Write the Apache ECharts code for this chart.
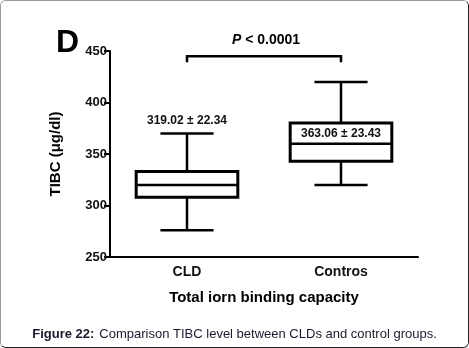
<!DOCTYPE html>
<html>
<head>
<meta charset="utf-8">
<script src="https://cdn.jsdelivr.net/npm/echarts@6/dist/echarts.min.js"></script>
<style>
  html, body { margin: 0; padding: 0; background: #fff; }
  #frame {
    position: absolute; left: 0; top: 0; width: 467px; height: 346px;
    border: 1px solid #999; border-right-color: #222; border-bottom-color: #222;
    border-radius: 6px; overflow: hidden;
  }
  #chart { width: 469px; height: 348px; position: absolute; left: -1px; top: -1px; }
</style>
</head>
<body>
<div id="frame"><div id="chart"></div></div>
<script>
// groups and box-plot statistics
const categories = ['CLD', 'Contros'];
const minVals = [276, 320];
const q1Vals = [308, 343];
const medianVals = [320, 360];
const q3Vals = [333, 380];
const maxVals = [370, 420];

// mean ± SD labels and the level they sit at
const meanSdLabels = ['319.02 ± 22.34', '363.06 ± 23.43'];
const meanSdLevels = [382, 370];

// significance bracket
const bracketLevel = 445;
const bracketEndLevel = 439;
const pTextLevel = 461;

const yMin = 250, yMax = 450, yStep = 50;

const boxData = categories.map((c, i) => [i, minVals[i], q1Vals[i], medianVals[i], q3Vals[i], maxVals[i]]);

const FONT = '"Liberation Sans", Arial, sans-serif';

const chart = echarts.init(document.getElementById('chart'));

const renderBox = (params, api) => {
  const x = api.value(0);
  const band = api.size([1, 0])[0];
  const boxW = band * 0.66;
  const capW = band * 0.345;
  const pMin = api.coord([x, api.value(1)]);
  const pQ1 = api.coord([x, api.value(2)]);
  const pMed = api.coord([x, api.value(3)]);
  const pQ3 = api.coord([x, api.value(4)]);
  const pMax = api.coord([x, api.value(5)]);
  const cx = pMed[0];
  const thin = { stroke: '#000', lineWidth: 2.5 };
  return {
    type: 'group',
    children: [
      { type: 'line', shape: { x1: cx, y1: pQ3[1], x2: cx, y2: pMax[1] }, style: thin },
      { type: 'line', shape: { x1: cx, y1: pQ1[1], x2: cx, y2: pMin[1] }, style: thin },
      { type: 'line', shape: { x1: cx - capW / 2, y1: pMax[1], x2: cx + capW / 2, y2: pMax[1] }, style: thin },
      { type: 'line', shape: { x1: cx - capW / 2, y1: pMin[1], x2: cx + capW / 2, y2: pMin[1] }, style: thin },
      { type: 'rect', shape: { x: cx - boxW / 2, y: pQ3[1], width: boxW, height: pQ1[1] - pQ3[1] }, style: { stroke: '#000', lineWidth: 3, fill: '#fff' } },
      { type: 'line', shape: { x1: cx - boxW / 2, y1: pMed[1], x2: cx + boxW / 2, y2: pMed[1] }, style: { stroke: '#000', lineWidth: 2.5 } }
    ]
  };
};

const renderLabel = (params, api) => {
  const p = api.coord([api.value(0), api.value(1)]);
  return {
    type: 'text',
    style: {
      x: p[0], y: p[1], text: meanSdLabels[params.dataIndex],
      align: 'center', verticalAlign: 'middle',
      font: 'bold 12px ' + FONT, fill: '#111'
    }
  };
};

const renderBracket = (params, api) => {
  const a = api.coord([api.value(0), api.value(2)]);
  const b = api.coord([api.value(1), api.value(2)]);
  const endY = api.coord([api.value(0), api.value(3)])[1];
  const textY = api.coord([api.value(0), api.value(4)])[1];
  return {
    type: 'group',
    children: [
      { type: 'polyline', shape: { points: [[a[0], endY], [a[0], a[1]], [b[0], b[1]], [b[0], endY]] }, style: { stroke: '#000', lineWidth: 2.5, fill: 'none' } },
      {
        type: 'text',
        style: {
          x: (a[0] + b[0]) / 2 + 2, y: textY, text: '{i|P}{b| < 0.0001}',
          align: 'center', verticalAlign: 'middle',
          rich: {
            i: { fontFamily: FONT, fontSize: 14, fontWeight: 'bold', fontStyle: 'italic', fill: '#000' },
            b: { fontFamily: FONT, fontSize: 14, fontWeight: 'bold', fill: '#000' }
          }
        }
      }
    ]
  };
};

const option = {
  animation: false,
  backgroundColor: '#fff',
  title: [
    { text: 'D', left: 51, top: 22, textStyle: { fontFamily: FONT, fontSize: 32, fontWeight: 'bold', color: '#000' } },
    {
      text: '{b|Figure 22:} {r|Comparison TIBC level between CLDs and control groups.}',
      left: 'center', top: 320,
      textStyle: {
        fontWeight: 'normal',
        rich: {
          b: { fontFamily: FONT, fontSize: 13, fontWeight: 'bold', color: '#1a1a2e' },
          r: { fontFamily: FONT, fontSize: 13, fontWeight: 'normal', color: '#1a1a2e' }
        }
      }
    }
  ],
  grid: { left: 110, right: 51, top: 51, bottom: 91 },
  xAxis: {
    type: 'category',
    data: categories,
    axisLine: { lineStyle: { color: '#000', width: 2 } },
    axisTick: { alignWithLabel: true, length: 5, lineStyle: { color: '#000', width: 2 } },
    axisLabel: { margin: 8, fontFamily: FONT, fontSize: 14, fontWeight: 'bold', color: '#111' },
    name: 'Total iorn binding capacity',
    nameLocation: 'middle',
    nameGap: 33,
    nameTextStyle: { fontFamily: FONT, fontSize: 15, fontWeight: 'bold', color: '#000' }
  },
  yAxis: {
    type: 'value',
    min: yMin, max: yMax, interval: yStep,
    splitLine: { show: false },
    axisLine: { show: true, lineStyle: { color: '#000', width: 2 } },
    axisTick: { show: true, length: 6, lineStyle: { color: '#000', width: 2 } },
    axisLabel: { margin: 3, fontFamily: FONT, fontSize: 13, fontWeight: 'bold', color: '#111' },
    name: 'TIBC (μg/dl)',
    nameLocation: 'middle',
    nameRotate: 90,
    nameGap: 47,
    nameTextStyle: { fontFamily: FONT, fontSize: 15, fontWeight: 'bold', color: '#000' }
  },
  series: [
    {
      type: 'custom',
      renderItem: renderBox,
      encode: { x: 0, y: [1, 2, 3, 4, 5] },
      data: boxData,
      clip: false
    },
    {
      type: 'custom',
      renderItem: renderLabel,
      encode: { x: 0, y: 1 },
      data: meanSdLevels.map((v, i) => [i, v]),
      z: 5,
      clip: false
    },
    {
      type: 'custom',
      renderItem: renderBracket,
      data: [[0, 1, bracketLevel, bracketEndLevel, pTextLevel]],
      encode: { x: [0, 1], y: [2, 3] },
      clip: false
    }
  ]
};

chart.setOption(option);
</script>
</body>
</html>
